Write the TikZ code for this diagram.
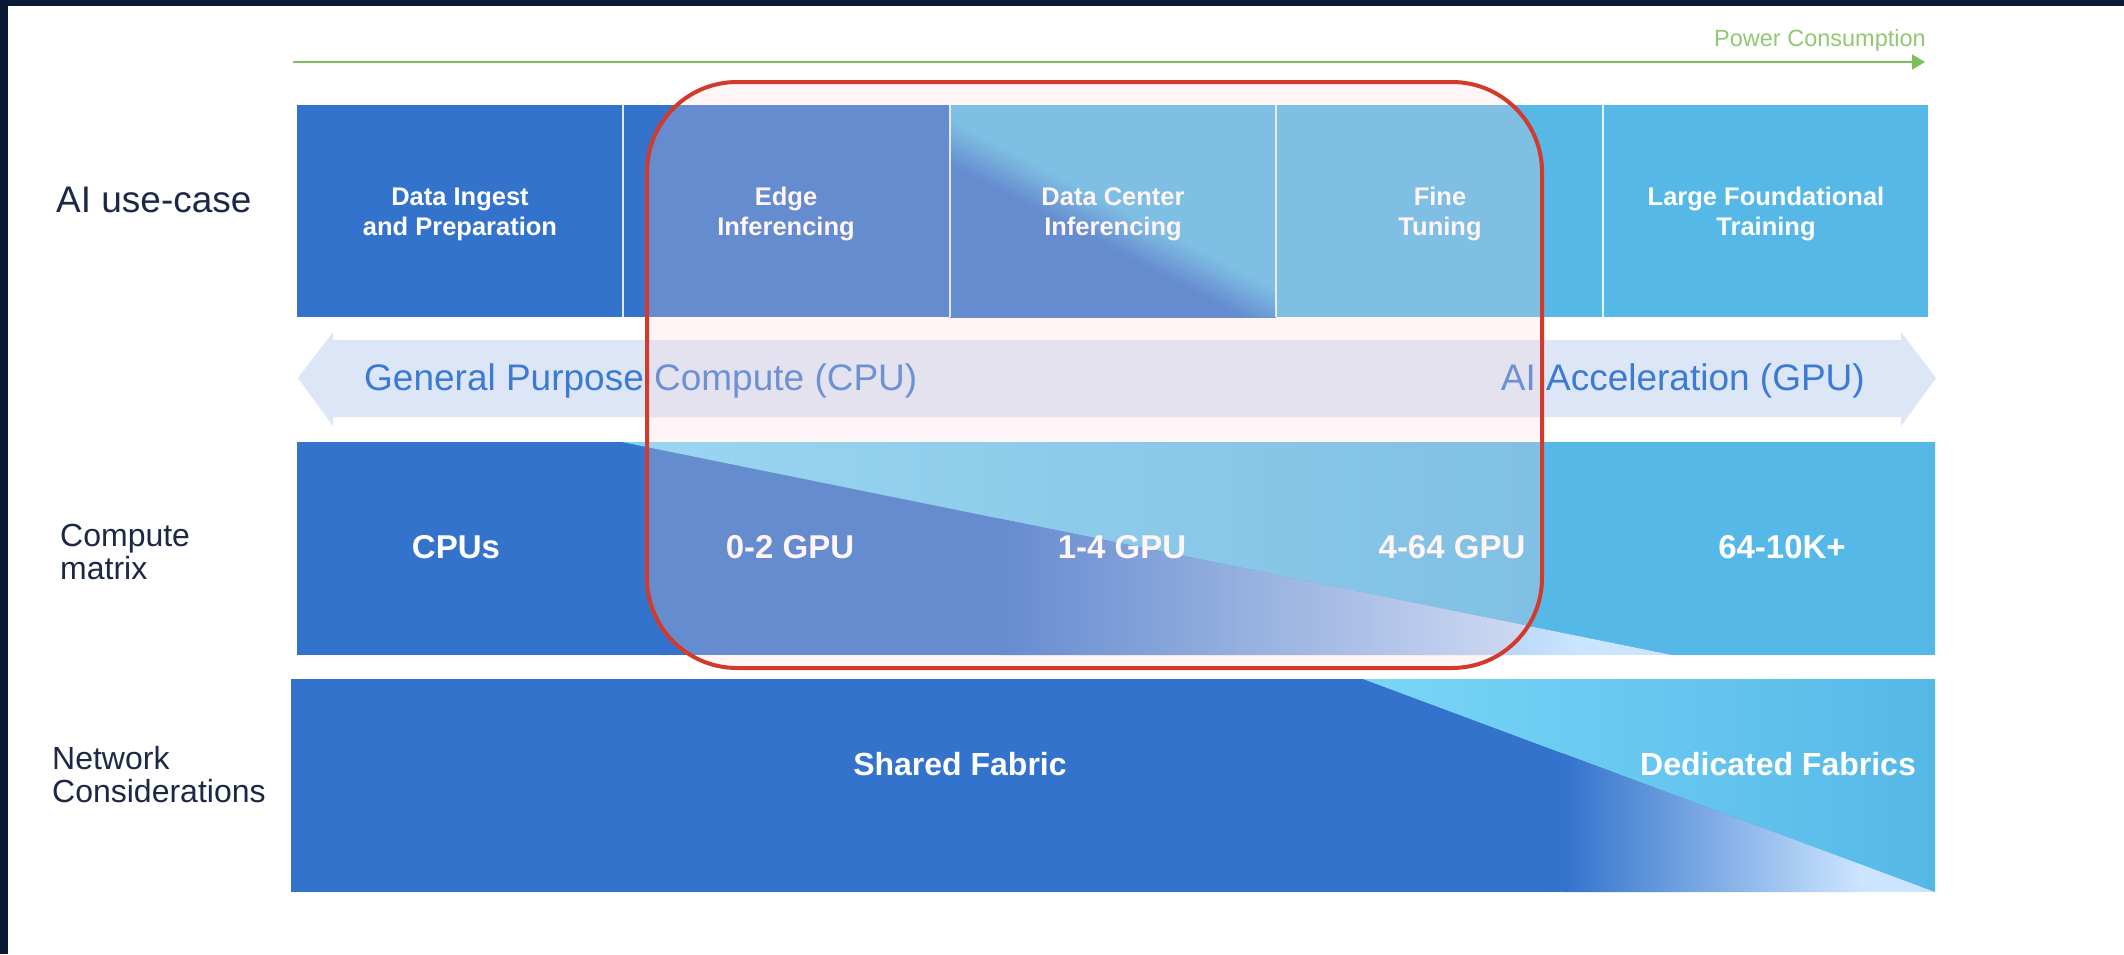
\documentclass[tikz,border=0pt]{standalone}
\usepackage{fontspec}
\setmainfont{Liberation Sans}
\usetikzlibrary{arrows.meta}
\definecolor{cdark}{RGB}{51,115,204}
\definecolor{clight}{RGB}{85,184,231}
\definecolor{ccyan}{RGB}{122,214,248}
\definecolor{cpale}{RGB}{204,229,255}
\definecolor{cband}{RGB}{221,230,246}
\definecolor{cbandtext}{RGB}{60,123,212}
\definecolor{cgreen}{RGB}{125,192,90}
\definecolor{cred}{RGB}{210,58,44}
\definecolor{cveil}{RGB}{255,215,220}
\definecolor{cnavy}{RGB}{10,25,54}
\definecolor{clabel}{RGB}{28,40,70}
\begin{document}
\begin{tikzpicture}[x=1pt,y=-1pt,
  boxlabel/.style={text=white, font=\fontsize{25.5}{30}\selectfont\bfseries, align=center, inner sep=0pt, anchor=center},
  celllabel/.style={text=white, font=\fontsize{33}{38}\selectfont\bfseries, inner sep=0pt, anchor=base},
  netlabel/.style={text=white, font=\fontsize{32}{38}\selectfont\bfseries, inner sep=0pt, anchor=base},
  sidelabel/.style={text=clabel, font=\fontsize{32}{33}\selectfont, align=left, inner sep=0pt, anchor=west},
  bandlabel/.style={text=cbandtext, font=\fontsize{37}{44}\selectfont, inner sep=0pt},
  divider/.style={white, line width=2pt, opacity=0.85},
]
\useasboundingbox (0,0) rectangle (2124,954);
\fill[white] (0,0) rectangle (2124,954);
\fill[cnavy] (0,0) rectangle (2124,6);
\fill[cnavy] (0,0) rectangle (8,954);

% power consumption arrow
\coordinate (pw0) at (293,62);
\coordinate (pw1) at (1925,62);
\draw[cgreen, line width=2pt, -{Triangle[length=13pt,width=15pt]}] (pw0) -- (pw1);
\node[text=cgreen!85!white, font=\fontsize{23.5}{28}\selectfont, inner sep=0pt, anchor=base east] (pwlabel) at (1926,46) {Power Consumption};

% left labels
\node[text=clabel, font=\fontsize{37}{44}\selectfont, inner sep=0pt, anchor=base west] (lbluse) at (56,212) {AI use-case};
\node[sidelabel] (lblcomp) at (60,552) {Compute\\matrix};
\node[sidelabel] (lblnet) at (52,775) {Network\\Considerations};

% AI use-case row
\fill[cdark] (297,105) rectangle (950,317);
\begin{scope}
  \clip (950,105) rectangle (1276,317);
  \begin{scope}[shift={(1113,227)}, rotate=62.5]
    \fill[cdark] (-500,-500) rectangle (-19.5,500);
    \fill[clight] (19.5,-500) rectangle (500,500);
    \foreach \i in {0,...,19}{
      \pgfmathsetmacro{\p}{5*\i+2.5}
      \fill[clight!\p!cdark] ({-20+2*\i},-500) rectangle ({-17.4+2*\i},500);
    }
  \end{scope}
\end{scope}
\fill[clight] (1276,105) rectangle (1928,317);
\draw[divider] (623,105) -- (623,317);
\draw[divider] (950,105) -- (950,317);
\draw[divider] (1276,105) -- (1276,317);
\draw[divider] (1603,105) -- (1603,317);
\node[boxlabel] (uc1) at (460,214) {Data Ingest\\and Preparation};
\node[boxlabel] (uc2) at (786,214) {Edge\\Inferencing};
\node[boxlabel] (uc3) at (1113,214) {Data Center\\Inferencing};
\node[boxlabel] (uc4) at (1440,214) {Fine\\Tuning};
\node[boxlabel] (uc5) at (1766,214) {Large Foundational\\Training};

% CPU / GPU band
\fill[cband] (298,378) -- (333,332) -- (333,340) -- (1901,340) -- (1901,332) -- (1936,378)
  -- (1901,426) -- (1901,417) -- (333,417) -- (333,426) -- cycle;
\node[bandlabel, anchor=base west] (gpc) at (364,390) {General Purpose Compute (CPU)};
\node[bandlabel, anchor=base east] (aia) at (1865,390) {AI Acceleration (GPU)};

% Compute matrix row
\fill[cdark] (297,442) rectangle (1935,655);
\begin{scope}
  \clip (622,442) -- (1935,442) -- (1935,655) -- (1672,655) -- cycle;
  \shade[left color=ccyan, right color=clight] (620,442) rectangle (1560,655);
  \fill[clight] (1559,442) rectangle (1936,655);
\end{scope}
\begin{scope}
  \clip (297,442) -- (622,442) -- (1672,655) -- (297,655) -- cycle;
  \shade[left color=cdark, right color=cpale] (1000,442) rectangle (1580,655);
  \fill[cpale] (1579,442) rectangle (1700,655);
\end{scope}
\node[celllabel] (cm1) at (456,558) {CPUs};
\node[celllabel] (cm2) at (790,558) {0-2 GPU};
\node[celllabel] (cm3) at (1122,558) {1-4 GPU};
\node[celllabel] (cm4) at (1452,558) {4-64 GPU};
\node[celllabel] (cm5) at (1782,558) {64-10K+};

% Network row
\fill[cdark] (291,679) rectangle (1935,892);
\begin{scope}
  \clip (1363,679) -- (1935,679) -- (1935,892) -- cycle;
  \shade[left color=ccyan, right color=clight] (1363,679) rectangle (1935,892);
\end{scope}
\begin{scope}
  \clip (291,679) -- (1363,679) -- (1935,892) -- (291,892) -- cycle;
  \shade[left color=cdark, right color=cpale] (1563,679) rectangle (1862,892);
  \fill[cpale] (1861,679) rectangle (1936,892);
\end{scope}
\node[netlabel] (nf1) at (960,775) {Shared Fabric};
\node[netlabel] (nf2) at (1778,775) {Dedicated Fabrics};

% highlighted region
\draw[cred, line width=4pt, fill=cveil, fill opacity=0.25, rounded corners=90pt] (647,82) rectangle (1542,668);
\end{tikzpicture}
\end{document}
